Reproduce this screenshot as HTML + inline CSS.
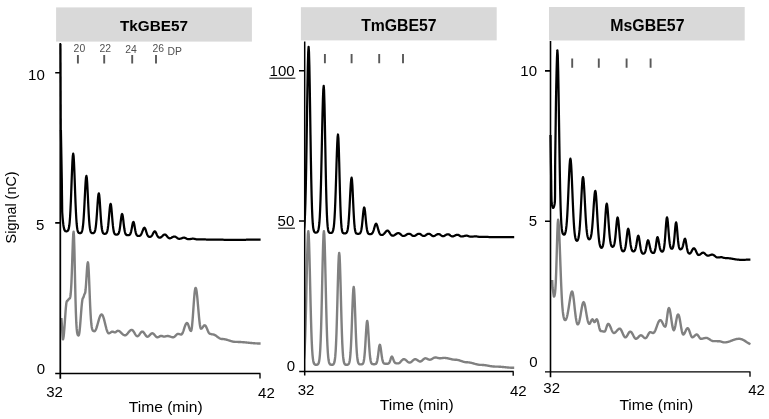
<!DOCTYPE html>
<html lang="en"><head><meta charset="utf-8"><title>GBE57 chromatograms</title>
<style>
html,body{margin:0;padding:0;background:#fff;}
body{width:769px;height:419px;overflow:hidden;}
svg{display:block;font-family:"Liberation Sans",sans-serif;}
.ax{stroke:#000;stroke-width:1.35;fill:none;}
.ay{stroke:#000;stroke-width:1.75;fill:none;}
.tk{stroke:#000;stroke-width:1.6;fill:none;}
.dp{stroke:#595959;stroke-width:1.9;fill:none;}
.bk{stroke:#000;stroke-width:2.25;fill:none;stroke-linejoin:round;stroke-linecap:butt;}
.gr{stroke:#808080;stroke-width:2.4;fill:none;stroke-linejoin:round;stroke-linecap:butt;}
</style></head><body>
<svg width="769" height="419" viewBox="0 0 769 419">
<rect width="769" height="419" fill="#fff"/>

<rect x="56.1" y="7.4" width="195.8" height="34.2" fill="#d9d9d9"/>
<rect x="300.9" y="7.2" width="195.8" height="33.2" fill="#d9d9d9"/>
<rect x="549.0" y="7.0" width="195.7" height="33.5" fill="#d9d9d9"/>
<text x="154.0" y="31.1" font-size="15.3" text-anchor="middle" font-weight="bold" fill="#000" >TkGBE57</text>
<text x="398.9" y="30.7" font-size="15.8" text-anchor="middle" font-weight="bold" fill="#000" >TmGBE57</text>
<text x="647.4" y="30.8" font-size="15.9" text-anchor="middle" font-weight="bold" fill="#000" >MsGBE57</text>
<path class="gr" d="M61.40 318.00L61.77 323.35L62.15 328.70L62.52 334.05L62.90 339.40L63.27 338.62L63.65 336.35L64.02 332.77L64.39 328.18L64.76 322.93L65.14 317.47L65.51 312.22L65.88 307.63L66.25 304.05L66.63 301.78L67.00 301.00L67.37 300.88L67.74 300.55L68.11 300.07L68.49 299.53L68.86 299.05L69.23 298.72L69.60 298.60L69.96 298.17L70.33 296.75L70.69 294.01L71.05 289.52L71.42 282.88L71.78 274.01L72.15 263.33L72.51 251.96L72.87 241.61L73.24 234.27L73.60 231.60L73.98 236.12L74.37 248.44L74.75 265.46L75.14 283.65L75.52 300.17L75.91 313.33L76.29 322.69L76.68 328.70L77.06 332.21L77.45 334.08L77.83 335.00L78.22 335.39L78.60 335.50L78.97 334.86L79.33 332.99L79.70 330.01L80.07 326.12L80.43 321.60L80.80 316.75L81.17 311.90L81.53 307.38L81.90 303.49L82.27 300.51L82.63 298.64L83.00 298.00L83.38 297.57L83.76 296.45L84.14 295.05L84.52 293.93L84.90 293.50L85.28 292.40L85.65 289.24L86.03 284.40L86.40 278.53L86.78 272.48L87.15 267.17L87.53 263.55L87.90 262.30L88.28 264.28L88.66 269.87L89.05 278.08L89.43 287.66L89.81 297.40L90.19 306.33L90.58 313.86L90.96 319.73L91.34 324.00L91.72 326.91L92.11 328.78L92.49 329.90L92.87 330.55L93.25 330.91L93.64 331.09L94.02 331.18L94.40 331.20L94.80 331.07L95.20 330.69L95.60 330.07L96.00 329.23L96.40 328.20L96.80 327.00L97.20 325.67L97.60 324.26L98.00 322.80L98.40 321.34L98.80 319.93L99.20 318.60L99.60 317.40L100.00 316.37L100.40 315.53L100.80 314.91L101.20 314.53L101.60 314.40L101.99 314.54L102.39 314.97L102.78 315.67L103.18 316.61L103.57 317.78L103.97 319.12L104.36 320.62L104.76 322.21L105.15 323.85L105.54 325.49L105.94 327.08L106.33 328.57L106.73 329.92L107.12 331.09L107.52 332.03L107.91 332.73L108.31 333.16L108.70 333.30L109.08 333.26L109.46 333.14L109.84 332.95L110.22 332.71L110.60 332.45L110.98 332.19L111.36 331.95L111.74 331.76L112.12 331.64L112.50 331.60L112.88 331.65L113.27 331.80L113.65 332.00L114.03 332.20L114.42 332.35L114.80 332.40L115.19 332.34L115.58 332.17L115.96 331.91L116.35 331.60L116.74 331.29L117.12 331.03L117.51 330.86L117.90 330.80L118.29 330.83L118.69 330.94L119.08 331.10L119.48 331.33L119.87 331.60L120.27 331.93L120.66 332.28L121.06 332.66L121.45 333.05L121.84 333.44L122.24 333.82L122.63 334.18L123.03 334.50L123.42 334.77L123.82 335.00L124.21 335.16L124.61 335.27L125.00 335.30L125.39 335.25L125.79 335.12L126.18 334.90L126.58 334.60L126.97 334.23L127.36 333.80L127.76 333.34L128.15 332.85L128.55 332.35L128.94 331.86L129.34 331.40L129.73 330.97L130.12 330.60L130.52 330.30L130.91 330.08L131.31 329.95L131.70 329.90L132.08 329.97L132.46 330.17L132.84 330.50L133.22 330.94L133.60 331.47L133.98 332.08L134.36 332.72L134.74 333.38L135.12 334.02L135.50 334.62L135.88 335.16L136.26 335.60L136.64 335.93L137.02 336.13L137.40 336.20L137.78 336.13L138.15 335.94L138.53 335.62L138.91 335.21L139.28 334.72L139.66 334.18L140.04 333.62L140.42 333.08L140.79 332.59L141.17 332.18L141.55 331.86L141.92 331.67L142.30 331.60L142.69 331.67L143.08 331.89L143.48 332.24L143.87 332.70L144.26 333.25L144.65 333.84L145.05 334.46L145.44 335.05L145.83 335.60L146.22 336.06L146.62 336.41L147.01 336.63L147.40 336.70L147.78 336.65L148.15 336.51L148.53 336.27L148.91 335.97L149.28 335.60L149.66 335.20L150.04 334.80L150.42 334.40L150.79 334.03L151.17 333.73L151.55 333.49L151.92 333.35L152.30 333.30L152.69 333.36L153.08 333.53L153.48 333.80L153.87 334.16L154.26 334.59L154.65 335.06L155.05 335.54L155.44 336.01L155.83 336.44L156.22 336.80L156.62 337.07L157.01 337.24L157.40 337.30L157.78 337.27L158.16 337.17L158.54 337.01L158.92 336.82L159.30 336.60L159.68 336.38L160.06 336.19L160.44 336.03L160.82 335.93L161.20 335.90L161.55 335.93L161.90 336.00L162.25 336.12L162.60 336.25L162.95 336.38L163.30 336.50L163.65 336.57L164.00 336.60L164.39 336.58L164.78 336.53L165.17 336.45L165.56 336.35L165.94 336.25L166.33 336.15L166.72 336.07L167.11 336.02L167.50 336.00L167.88 336.01L168.26 336.06L168.64 336.12L169.02 336.22L169.40 336.32L169.78 336.45L170.16 336.58L170.54 336.72L170.92 336.85L171.30 336.98L171.68 337.08L172.06 337.18L172.44 337.24L172.82 337.29L173.20 337.30L173.58 337.25L173.95 337.11L174.33 336.87L174.71 336.57L175.08 336.20L175.46 335.80L175.84 335.40L176.22 335.00L176.59 334.63L176.97 334.33L177.35 334.09L177.72 333.95L178.10 333.90L178.49 333.92L178.88 333.99L179.26 334.09L179.65 334.20L180.04 334.31L180.42 334.41L180.81 334.48L181.20 334.50L181.59 334.37L181.97 334.00L182.36 333.40L182.75 332.60L183.13 331.62L183.52 330.53L183.91 329.35L184.29 328.15L184.68 326.97L185.07 325.88L185.45 324.90L185.84 324.10L186.23 323.50L186.61 323.13L187.00 323.00L187.36 323.16L187.73 323.63L188.09 324.38L188.45 325.34L188.82 326.43L189.18 327.57L189.55 328.66L189.91 329.62L190.27 330.37L190.64 330.84L191.00 331.00L191.38 330.31L191.77 328.27L192.15 325.01L192.53 320.71L192.92 315.63L193.30 310.10L193.68 304.48L194.07 299.14L194.45 294.49L194.83 290.88L195.22 288.61L195.60 287.90L195.99 288.38L196.37 289.96L196.76 292.53L197.14 295.92L197.53 299.93L197.91 304.34L198.30 308.92L198.69 313.43L199.07 317.65L199.46 321.39L199.84 324.48L200.23 326.79L200.61 328.22L201.00 328.70L201.37 328.62L201.74 328.38L202.11 328.00L202.48 327.53L202.85 327.00L203.22 326.47L203.59 326.00L203.96 325.62L204.33 325.38L204.70 325.30L205.08 325.41L205.46 325.72L205.84 326.23L206.21 326.90L206.59 327.71L206.97 328.60L207.35 329.55L207.73 330.50L208.11 331.39L208.49 332.20L208.86 332.87L209.24 333.38L209.62 333.69L210.00 333.80L210.36 333.83L210.71 333.91L211.07 334.03L211.43 334.17L211.79 334.29L212.14 334.37L212.50 334.40L212.90 334.42L213.29 334.48L213.69 334.58L214.08 334.71L214.48 334.88L214.88 335.07L215.27 335.30L215.67 335.55L216.06 335.82L216.46 336.10L216.85 336.40L217.25 336.70L217.65 337.00L218.04 337.30L218.44 337.58L218.83 337.85L219.23 338.10L219.62 338.33L220.02 338.52L220.42 338.69L220.81 338.82L221.21 338.92L221.60 338.98L222.00 339.00L222.39 339.01L222.78 339.02L223.17 339.05L223.56 339.09L223.94 339.14L224.33 339.19L224.72 339.26L225.11 339.34L225.50 339.42L225.89 339.52L226.28 339.62L226.67 339.72L227.06 339.84L227.44 339.95L227.83 340.07L228.22 340.20L228.61 340.32L229.00 340.45L229.39 340.58L229.78 340.70L230.17 340.83L230.56 340.95L230.94 341.06L231.33 341.17L231.72 341.28L232.11 341.38L232.50 341.48L232.89 341.56L233.28 341.64L233.67 341.71L234.06 341.76L234.44 341.81L234.83 341.85L235.22 341.88L235.61 341.89L236.00 341.90L236.40 341.90L236.79 341.90L237.19 341.91L237.59 341.92L237.98 341.93L238.38 341.94L238.78 341.95L239.17 341.96L239.57 341.98L239.97 342.00L240.36 342.02L240.76 342.04L241.16 342.07L241.55 342.09L241.95 342.12L242.35 342.15L242.75 342.18L243.14 342.21L243.54 342.24L243.94 342.28L244.33 342.31L244.73 342.35L245.13 342.38L245.52 342.42L245.92 342.46L246.32 342.50L246.71 342.54L247.11 342.58L247.51 342.62L247.90 342.66L248.30 342.70L248.70 342.74L249.09 342.78L249.49 342.82L249.89 342.86L250.28 342.90L250.68 342.94L251.08 342.98L251.47 343.02L251.87 343.05L252.27 343.09L252.66 343.12L253.06 343.16L253.46 343.19L253.85 343.22L254.25 343.25L254.65 343.28L255.05 343.31L255.44 343.33L255.84 343.36L256.24 343.38L256.63 343.40L257.03 343.42L257.43 343.44L257.82 343.45L258.22 343.46L258.62 343.47L259.01 343.48L259.41 343.49L259.81 343.50L260.20 343.50L260.60 343.50"/>
<clipPath id="c2"><rect x="304.7" y="0" width="230" height="419"/></clipPath>
<path class="gr" clip-path="url(#c2)" d="M300.60 366.00L300.99 365.98L301.37 365.92L301.75 365.80L302.14 365.57L302.53 365.17L302.91 364.45L303.30 363.22L303.68 361.19L304.06 357.96L304.45 353.07L304.84 346.02L305.22 336.42L305.61 324.05L305.99 309.10L306.38 292.21L306.76 274.56L307.15 257.77L307.53 243.76L307.92 234.39L308.30 231.10L308.68 234.07L309.06 242.54L309.44 255.34L309.82 270.88L310.20 287.52L310.59 303.78L310.97 318.55L311.35 331.13L311.73 341.25L312.11 348.95L312.49 354.53L312.87 358.37L313.25 360.91L313.63 362.52L314.01 363.51L314.40 364.09L314.78 364.43L315.16 364.62L315.54 364.73L315.92 364.78L316.30 364.80L316.70 364.78L317.10 364.71L317.50 364.58L317.90 364.31L318.30 363.82L318.70 362.95L319.10 361.41L319.50 358.85L319.90 354.77L320.30 348.60L320.70 339.82L321.10 328.06L321.50 313.34L321.90 296.20L322.30 277.84L322.70 260.03L323.10 244.92L323.50 234.71L323.90 231.10L324.29 234.37L324.68 243.65L325.07 257.53L325.46 274.17L325.85 291.67L326.24 308.41L326.63 323.23L327.02 335.48L327.41 345.00L327.80 351.98L328.19 356.83L328.58 360.03L328.97 362.05L329.36 363.26L329.75 363.97L330.14 364.38L330.53 364.60L330.92 364.72L331.31 364.78L331.70 364.80L332.09 364.78L332.49 364.73L332.88 364.61L333.28 364.39L333.67 363.98L334.07 363.25L334.46 361.97L334.86 359.82L335.25 356.40L335.65 351.24L336.04 343.89L336.44 334.05L336.83 321.73L337.23 307.39L337.62 292.02L338.02 277.11L338.41 264.47L338.81 255.92L339.20 252.90L339.59 255.92L339.98 264.47L340.37 277.11L340.76 292.02L341.15 307.39L341.54 321.73L341.93 334.05L342.32 343.89L342.71 351.24L343.09 356.40L343.48 359.82L343.87 361.97L344.26 363.25L344.65 363.98L345.04 364.39L345.43 364.61L345.82 364.73L346.21 364.78L346.60 364.80L346.99 364.79L347.39 364.74L347.78 364.65L348.18 364.47L348.57 364.12L348.97 363.47L349.36 362.33L349.76 360.41L350.15 357.33L350.54 352.72L350.94 346.27L351.33 337.85L351.73 327.71L352.12 316.53L352.52 305.41L352.91 295.81L353.31 289.24L353.70 286.90L354.09 289.23L354.48 295.77L354.87 305.32L355.26 316.37L355.64 327.50L356.03 337.59L356.42 345.96L356.81 352.39L357.20 356.97L357.59 360.03L357.98 361.95L358.37 363.08L358.76 363.72L359.14 364.07L359.53 364.25L359.92 364.34L360.31 364.39L360.70 364.40L361.08 364.39L361.46 364.36L361.85 364.30L362.23 364.18L362.61 363.93L362.99 363.47L363.38 362.64L363.76 361.23L364.14 358.99L364.52 355.67L364.91 351.13L365.29 345.44L365.67 338.94L366.05 332.30L366.44 326.44L366.82 322.36L367.20 320.90L367.59 322.36L367.98 326.41L368.36 332.24L368.75 338.85L369.14 345.33L369.53 350.99L369.92 355.51L370.31 358.81L370.69 361.05L371.08 362.45L371.47 363.28L371.86 363.74L372.25 363.98L372.64 364.10L373.02 364.16L373.41 364.19L373.80 364.20L374.18 364.20L374.55 364.18L374.93 364.15L375.30 364.08L375.68 363.94L376.05 363.67L376.43 363.17L376.80 362.33L377.18 361.00L377.55 359.08L377.93 356.55L378.30 353.53L378.68 350.35L379.05 347.47L379.43 345.44L379.80 344.70L380.20 345.42L380.60 347.42L381.00 350.24L381.40 353.35L381.80 356.30L382.20 358.78L382.60 360.67L383.00 361.97L383.40 362.79L383.80 363.28L384.20 363.55L384.60 363.68L385.00 363.75L385.40 363.78L385.80 363.80L386.20 363.80L386.57 363.80L386.95 363.79L387.32 363.78L387.69 363.75L388.07 363.68L388.44 363.54L388.81 363.29L389.19 362.87L389.56 362.22L389.93 361.31L390.31 360.17L390.68 358.92L391.05 357.75L391.43 356.91L391.80 356.60L392.20 356.86L392.60 357.57L393.00 358.57L393.40 359.68L393.80 360.73L394.20 361.61L394.60 362.28L395.00 362.75L395.40 363.04L395.80 363.21L396.20 363.31L396.60 363.36L397.00 363.38L397.40 363.39L397.80 363.40L398.20 363.40L398.58 363.35L398.96 363.22L399.34 363.00L399.72 362.71L400.10 362.35L400.48 361.95L400.86 361.52L401.24 361.08L401.62 360.65L402.00 360.25L402.38 359.89L402.76 359.60L403.14 359.38L403.52 359.25L403.90 359.20L404.28 359.24L404.66 359.35L405.04 359.52L405.42 359.76L405.80 360.05L406.18 360.37L406.56 360.72L406.94 361.08L407.32 361.43L407.70 361.75L408.08 362.04L408.46 362.28L408.84 362.45L409.22 362.56L409.60 362.60L409.98 362.56L410.36 362.45L410.74 362.28L411.12 362.04L411.50 361.75L411.88 361.43L412.26 361.08L412.64 360.72L413.02 360.37L413.40 360.05L413.78 359.76L414.16 359.52L414.54 359.35L414.92 359.24L415.30 359.20L415.68 359.23L416.05 359.33L416.43 359.49L416.81 359.70L417.18 359.94L417.56 360.21L417.94 360.49L418.32 360.76L418.69 361.00L419.07 361.21L419.45 361.37L419.82 361.47L420.20 361.50L420.60 361.45L421.00 361.32L421.40 361.10L421.80 360.81L422.20 360.47L422.60 360.09L423.00 359.71L423.40 359.33L423.80 358.99L424.20 358.70L424.60 358.48L425.00 358.35L425.40 358.30L425.79 358.33L426.18 358.41L426.57 358.54L426.96 358.71L427.35 358.90L427.75 359.10L428.14 359.29L428.53 359.46L428.92 359.59L429.31 359.67L429.70 359.70L430.08 359.68L430.46 359.60L430.84 359.49L431.22 359.34L431.60 359.15L431.98 358.94L432.36 358.71L432.74 358.49L433.12 358.26L433.50 358.05L433.88 357.86L434.26 357.71L434.64 357.60L435.02 357.52L435.40 357.50L435.78 357.51L436.17 357.55L436.55 357.62L436.93 357.70L437.32 357.80L437.70 357.90L438.08 358.00L438.47 358.10L438.85 358.18L439.23 358.25L439.62 358.29L440.00 358.30L440.36 358.29L440.73 358.27L441.09 358.23L441.45 358.18L441.82 358.13L442.18 358.07L442.55 358.02L442.91 357.97L443.27 357.93L443.64 357.91L444.00 357.90L444.40 357.91L444.79 357.92L445.19 357.95L445.59 357.98L445.98 358.03L446.38 358.08L446.78 358.15L447.17 358.22L447.57 358.29L447.97 358.38L448.36 358.47L448.76 358.56L449.16 358.65L449.55 358.75L449.95 358.85L450.34 358.95L450.74 359.04L451.14 359.13L451.53 359.22L451.93 359.31L452.33 359.38L452.72 359.45L453.12 359.52L453.52 359.57L453.91 359.62L454.31 359.65L454.71 359.68L455.10 359.69L455.50 359.70L455.89 359.71L456.29 359.73L456.68 359.77L457.07 359.82L457.47 359.89L457.86 359.97L458.25 360.06L458.64 360.16L459.04 360.27L459.43 360.39L459.82 360.52L460.22 360.65L460.61 360.79L461.00 360.93L461.40 361.07L461.79 361.21L462.18 361.35L462.58 361.48L462.97 361.61L463.36 361.73L463.76 361.84L464.15 361.94L464.54 362.03L464.93 362.11L465.33 362.18L465.72 362.23L466.11 362.27L466.51 362.29L466.90 362.30L467.30 362.30L467.69 362.32L468.09 362.34L468.49 362.38L468.89 362.42L469.28 362.47L469.68 362.54L470.08 362.60L470.47 362.68L470.87 362.76L471.27 362.85L471.67 362.95L472.06 363.05L472.46 363.16L472.86 363.26L473.26 363.37L473.65 363.49L474.05 363.60L474.45 363.71L474.84 363.83L475.24 363.94L475.64 364.04L476.04 364.15L476.43 364.25L476.83 364.35L477.23 364.44L477.62 364.52L478.02 364.60L478.42 364.66L478.82 364.73L479.21 364.78L479.61 364.82L480.01 364.86L480.41 364.88L480.80 364.90L481.20 364.90L481.59 364.90L481.98 364.91L482.37 364.93L482.76 364.95L483.15 364.98L483.54 365.01L483.92 365.05L484.31 365.09L484.70 365.14L485.09 365.19L485.48 365.24L485.87 365.30L486.26 365.37L486.65 365.43L487.04 365.50L487.43 365.57L487.82 365.64L488.21 365.71L488.59 365.79L488.98 365.86L489.37 365.93L489.76 366.00L490.15 366.07L490.54 366.13L490.93 366.20L491.32 366.26L491.71 366.31L492.10 366.36L492.49 366.41L492.88 366.45L493.26 366.49L493.65 366.52L494.04 366.55L494.43 366.57L494.82 366.59L495.21 366.60L495.60 366.60L496.00 366.60L496.39 366.61L496.79 366.61L497.18 366.62L497.58 366.63L497.97 366.65L498.37 366.66L498.77 366.68L499.16 366.71L499.56 366.73L499.95 366.76L500.35 366.78L500.74 366.81L501.14 366.84L501.54 366.88L501.93 366.91L502.33 366.95L502.72 366.98L503.12 367.02L503.51 367.06L503.91 367.10L504.31 367.14L504.70 367.18L505.10 367.22L505.49 367.26L505.89 367.30L506.29 367.34L506.68 367.38L507.08 367.42L507.47 367.45L507.87 367.49L508.26 367.52L508.66 367.56L509.06 367.59L509.45 367.62L509.85 367.64L510.24 367.67L510.64 367.69L511.03 367.72L511.43 367.74L511.83 367.75L512.22 367.77L512.62 367.78L513.01 367.79L513.41 367.79L513.80 367.80L514.20 367.80"/>
<path class="gr" d="M552.20 280.00L552.40 284.00L552.60 288.00L552.92 290.15L553.25 292.30L553.58 294.45L553.90 296.60L554.28 296.27L554.66 295.12L555.05 292.74L555.43 288.49L555.81 281.71L556.19 271.99L556.57 259.61L556.95 245.81L557.34 232.78L557.72 223.29L558.10 219.80L558.49 221.53L558.89 226.53L559.28 234.27L559.68 243.96L560.07 254.77L560.47 265.87L560.86 276.57L561.26 286.32L561.65 294.79L562.04 301.82L562.44 307.41L562.83 311.68L563.23 314.82L563.62 317.03L564.02 318.51L564.41 319.44L564.81 319.94L565.20 320.10L565.58 319.95L565.97 319.48L566.35 318.70L566.73 317.62L567.12 316.23L567.50 314.54L567.88 312.59L568.27 310.39L568.65 308.00L569.03 305.48L569.42 302.91L569.80 300.38L570.18 297.98L570.57 295.82L570.95 294.01L571.33 292.64L571.72 291.79L572.10 291.50L572.48 291.97L572.86 293.37L573.24 295.58L573.62 298.43L574.00 301.71L574.38 305.22L574.76 308.76L575.14 312.16L575.52 315.27L575.90 318.01L576.28 320.29L576.66 322.09L577.04 323.37L577.42 324.14L577.80 324.40L578.19 324.20L578.57 323.60L578.96 322.62L579.35 321.27L579.73 319.59L580.12 317.63L580.51 315.45L580.89 313.14L581.28 310.78L581.67 308.50L582.05 306.40L582.44 304.62L582.83 303.25L583.21 302.39L583.60 302.10L583.98 302.38L584.36 303.22L584.74 304.56L585.12 306.31L585.50 308.36L585.88 310.59L586.26 312.89L586.64 315.15L587.02 317.28L587.40 319.20L587.78 320.84L588.16 322.16L588.54 323.12L588.92 323.70L589.30 323.90L589.69 323.72L590.07 323.23L590.46 322.48L590.85 321.60L591.24 320.72L591.62 319.97L592.01 319.48L592.40 319.30L592.73 319.49L593.07 320.00L593.40 320.70L593.73 321.40L594.07 321.91L594.40 322.10L594.78 321.91L595.17 321.40L595.55 320.70L595.93 320.00L596.32 319.49L596.70 319.30L597.06 319.54L597.43 320.23L597.79 321.32L598.15 322.72L598.52 324.32L598.88 325.98L599.25 327.58L599.61 328.98L599.97 330.07L600.34 330.76L600.70 331.00L601.08 331.01L601.46 331.06L601.84 331.12L602.22 331.21L602.60 331.30L602.98 331.39L603.36 331.48L603.74 331.54L604.12 331.59L604.50 331.60L604.87 331.41L605.24 330.86L605.61 330.01L605.98 328.94L606.35 327.75L606.72 326.56L607.09 325.49L607.46 324.64L607.83 324.09L608.20 323.90L608.58 324.00L608.96 324.29L609.34 324.77L609.72 325.41L610.10 326.17L610.48 327.04L610.86 327.97L611.24 328.93L611.62 329.86L612.00 330.72L612.38 331.49L612.76 332.13L613.14 332.61L613.52 332.90L613.90 333.00L614.29 332.95L614.67 332.81L615.06 332.59L615.45 332.29L615.83 331.93L616.22 331.51L616.61 331.07L616.99 330.63L617.38 330.19L617.77 329.77L618.15 329.41L618.54 329.11L618.93 328.89L619.31 328.75L619.70 328.70L620.08 328.79L620.46 329.07L620.84 329.52L621.22 330.12L621.60 330.85L621.98 331.67L622.36 332.55L622.74 333.45L623.12 334.33L623.50 335.15L623.88 335.88L624.26 336.48L624.64 336.93L625.02 337.21L625.40 337.30L625.78 337.22L626.15 336.97L626.53 336.58L626.91 336.07L627.28 335.46L627.66 334.79L628.04 334.11L628.42 333.44L628.79 332.83L629.17 332.32L629.55 331.93L629.92 331.68L630.30 331.60L630.68 331.68L631.06 331.91L631.44 332.29L631.82 332.79L632.20 333.40L632.58 334.09L632.96 334.82L633.34 335.58L633.72 336.31L634.10 337.00L634.48 337.61L634.86 338.11L635.24 338.49L635.62 338.72L636.00 338.80L636.38 338.75L636.75 338.60L637.13 338.36L637.51 338.04L637.88 337.67L638.26 337.26L638.64 336.84L639.02 336.43L639.39 336.06L639.77 335.74L640.15 335.50L640.52 335.35L640.90 335.30L641.27 335.35L641.65 335.49L642.02 335.72L642.40 336.02L642.77 336.37L643.15 336.75L643.52 337.13L643.90 337.47L644.27 337.78L644.65 338.01L645.02 338.15L645.40 338.20L645.78 338.11L646.15 337.86L646.53 337.45L646.91 336.90L647.28 336.26L647.66 335.56L648.04 334.84L648.42 334.14L648.79 333.50L649.17 332.95L649.55 332.54L649.92 332.29L650.30 332.20L650.66 332.23L651.02 332.32L651.39 332.45L651.75 332.60L652.11 332.75L652.48 332.88L652.84 332.97L653.20 333.00L653.59 332.90L653.99 332.61L654.38 332.14L654.78 331.49L655.17 330.70L655.57 329.78L655.96 328.76L656.36 327.67L656.75 326.55L657.14 325.43L657.54 324.34L657.93 323.33L658.33 322.40L658.72 321.61L659.12 320.96L659.51 320.49L659.91 320.20L660.30 320.10L660.68 320.20L661.05 320.48L661.43 320.93L661.81 321.53L662.18 322.23L662.56 323.00L662.94 323.80L663.32 324.57L663.69 325.27L664.07 325.87L664.45 326.32L664.82 326.60L665.20 326.70L665.57 326.26L665.94 324.98L666.31 322.98L666.68 320.43L667.05 317.56L667.42 314.66L667.79 312.00L668.16 309.87L668.53 308.51L668.90 308.10L669.28 308.37L669.65 309.33L670.03 310.89L670.41 312.96L670.78 315.38L671.16 318.00L671.54 320.68L671.92 323.25L672.29 325.57L672.67 327.51L673.05 328.98L673.42 329.89L673.80 330.20L674.19 329.89L674.58 328.99L674.97 327.56L675.36 325.70L675.75 323.56L676.15 321.31L676.54 319.11L676.93 317.16L677.32 315.64L677.71 314.68L678.10 314.40L678.50 314.65L678.90 315.52L679.30 316.94L679.70 318.82L680.10 321.02L680.50 323.41L680.90 325.84L681.30 328.18L681.70 330.29L682.10 332.06L682.50 333.39L682.90 334.22L683.30 334.50L683.69 334.37L684.08 334.00L684.47 333.41L684.86 332.66L685.25 331.80L685.65 330.90L686.04 330.04L686.43 329.29L686.82 328.70L687.21 328.33L687.60 328.20L688.00 328.36L688.40 328.81L688.80 329.53L689.20 330.47L689.60 331.57L690.00 332.75L690.40 333.93L690.80 335.02L691.20 335.97L691.60 336.69L692.00 337.14L692.40 337.30L692.79 337.24L693.18 337.08L693.57 336.82L693.96 336.48L694.35 336.10L694.75 335.70L695.14 335.32L695.53 334.98L695.92 334.72L696.31 334.56L696.70 334.50L697.09 334.59L697.48 334.84L697.87 335.24L698.26 335.76L698.65 336.34L699.05 336.96L699.44 337.54L699.83 338.06L700.22 338.46L700.61 338.71L701.00 338.80L701.37 338.79L701.74 338.76L702.11 338.70L702.49 338.63L702.86 338.55L703.23 338.45L703.60 338.35L703.97 338.25L704.34 338.15L704.71 338.07L705.09 338.00L705.46 337.94L705.83 337.91L706.20 337.90L706.60 337.92L707.00 338.00L707.40 338.11L707.80 338.27L708.20 338.47L708.60 338.70L709.00 338.95L709.40 339.22L709.80 339.50L710.20 339.78L710.60 340.05L711.00 340.30L711.40 340.53L711.80 340.73L712.20 340.89L712.60 341.00L713.00 341.08L713.40 341.10L713.77 341.10L714.15 341.10L714.52 341.11L714.89 341.12L715.27 341.12L715.64 341.13L716.01 341.14L716.39 341.16L716.76 341.17L717.13 341.18L717.51 341.18L717.88 341.19L718.25 341.20L718.63 341.20L719.00 341.20L719.39 341.22L719.77 341.26L720.16 341.33L720.54 341.43L720.93 341.54L721.31 341.67L721.70 341.80L722.09 341.93L722.47 342.06L722.86 342.17L723.24 342.27L723.63 342.34L724.01 342.38L724.40 342.40L724.79 342.39L725.19 342.37L725.58 342.34L725.98 342.30L726.37 342.24L726.77 342.17L727.16 342.09L727.56 342.00L727.95 341.90L728.35 341.79L728.74 341.67L729.14 341.54L729.53 341.41L729.92 341.27L730.32 341.13L730.71 340.98L731.11 340.83L731.50 340.68L731.90 340.52L732.29 340.37L732.69 340.22L733.08 340.07L733.48 339.93L733.87 339.79L734.26 339.66L734.66 339.53L735.05 339.41L735.45 339.30L735.84 339.20L736.24 339.11L736.63 339.03L737.03 338.96L737.42 338.90L737.82 338.86L738.21 338.83L738.61 338.81L739.00 338.80L739.39 338.81L739.79 338.84L740.18 338.89L740.58 338.97L740.97 339.06L741.37 339.17L741.76 339.30L742.16 339.45L742.55 339.62L742.95 339.80L743.34 340.00L743.74 340.20L744.13 340.42L744.53 340.65L744.92 340.89L745.32 341.14L745.71 341.39L746.11 341.64L746.50 341.90L746.89 342.16L747.29 342.41L747.68 342.66L748.08 342.91L748.47 343.15L748.87 343.38L749.26 343.60L749.66 343.80L750.05 344.00L750.45 344.18"/>
<path class="bk" d="M60.90 130.00L61.20 146.67L61.50 163.33L61.80 180.00L62.00 196.00L62.20 212.00L62.59 217.47L62.98 221.74L63.37 224.97L63.76 227.33L64.15 228.99L64.55 230.08L64.94 230.74L65.33 231.10L65.72 231.25L66.11 231.30L66.50 231.30L66.89 231.26L67.29 231.14L67.68 230.89L68.08 230.41L68.47 229.56L68.86 228.12L69.26 225.80L69.65 222.28L70.05 217.22L70.44 210.42L70.84 201.87L71.23 191.88L71.62 181.15L72.02 170.70L72.41 161.83L72.81 155.83L73.20 153.70L73.59 155.88L73.98 162.03L74.36 171.12L74.75 181.82L75.14 192.82L75.53 203.05L75.92 211.81L76.31 218.78L76.69 223.96L77.08 227.57L77.47 229.94L77.86 231.42L78.25 232.29L78.64 232.78L79.02 233.04L79.41 233.16L79.80 233.20L80.19 233.17L80.58 233.09L80.96 232.90L81.35 232.55L81.74 231.92L82.13 230.85L82.52 229.14L82.91 226.54L83.29 222.81L83.68 217.78L84.07 211.47L84.46 204.10L84.85 196.17L85.24 188.45L85.62 181.90L86.01 177.47L86.40 175.90L86.79 177.67L87.18 182.62L87.56 189.84L87.95 198.16L88.34 206.49L88.72 213.98L89.11 220.14L89.50 224.83L89.89 228.13L90.28 230.30L90.66 231.64L91.05 232.42L91.44 232.85L91.82 233.07L92.21 233.17L92.60 233.20L92.99 233.18L93.38 233.11L93.76 232.95L94.15 232.66L94.54 232.11L94.92 231.18L95.31 229.67L95.70 227.37L96.09 224.11L96.47 219.82L96.86 214.60L97.25 208.80L97.64 203.01L98.02 197.98L98.41 194.53L98.80 193.30L99.19 194.72L99.59 198.66L99.98 204.29L100.37 210.63L100.77 216.77L101.16 222.08L101.55 226.25L101.95 229.24L102.34 231.22L102.73 232.43L103.13 233.13L103.52 233.50L103.91 233.69L104.31 233.78L104.70 233.80L105.09 233.78L105.49 233.72L105.88 233.58L106.27 233.31L106.67 232.79L107.06 231.89L107.45 230.43L107.85 228.22L108.24 225.15L108.63 221.23L109.03 216.70L109.42 212.02L109.81 207.86L110.21 204.95L110.60 203.90L110.99 204.98L111.37 207.96L111.76 212.23L112.15 217.04L112.53 221.69L112.92 225.72L113.31 228.87L113.69 231.14L114.08 232.64L114.47 233.57L114.85 234.09L115.24 234.38L115.63 234.52L116.01 234.58L116.40 234.60L116.78 234.59L117.16 234.54L117.54 234.45L117.92 234.26L118.30 233.90L118.68 233.28L119.06 232.27L119.44 230.74L119.82 228.61L120.20 225.90L120.58 222.76L120.96 219.52L121.34 216.64L121.72 214.63L122.10 213.90L122.48 214.65L122.86 216.72L123.24 219.68L123.62 223.02L124.00 226.25L124.38 229.04L124.76 231.23L125.14 232.80L125.52 233.84L125.90 234.48L126.28 234.85L126.66 235.04L127.04 235.14L127.42 235.19L127.80 235.20L128.17 235.19L128.55 235.16L128.92 235.10L129.29 234.98L129.67 234.75L130.04 234.35L130.41 233.70L130.79 232.72L131.16 231.35L131.53 229.61L131.91 227.59L132.28 225.51L132.65 223.66L133.03 222.37L133.40 221.90L133.79 222.47L134.19 224.02L134.58 226.19L134.97 228.56L135.36 230.77L135.76 232.59L136.15 233.94L136.54 234.84L136.94 235.40L137.33 235.71L137.72 235.88L138.11 235.96L138.51 235.99L138.90 236.00L139.29 235.96L139.69 235.84L140.08 235.63L140.47 235.29L140.86 234.82L141.26 234.18L141.65 233.38L142.04 232.43L142.44 231.38L142.83 230.30L143.22 229.29L143.61 228.45L144.01 227.89L144.40 227.70L144.80 227.95L145.20 228.66L145.60 229.71L146.00 230.95L146.40 232.24L146.80 233.45L147.20 234.50L147.60 235.34L148.00 235.97L148.40 236.41L148.80 236.70L149.20 236.85L149.60 236.90L149.97 236.87L150.34 236.79L150.71 236.65L151.09 236.42L151.46 236.10L151.83 235.67L152.20 235.13L152.57 234.49L152.94 233.79L153.31 233.06L153.69 232.37L154.06 231.81L154.43 231.43L154.80 231.30L155.18 231.47L155.57 231.97L155.95 232.70L156.34 233.56L156.72 234.46L157.11 235.30L157.49 236.03L157.88 236.61L158.26 237.05L158.65 237.36L159.03 237.56L159.42 237.67L159.80 237.70L160.18 237.66L160.57 237.52L160.95 237.31L161.34 237.03L161.72 236.69L162.11 236.32L162.49 235.93L162.88 235.55L163.26 235.20L163.65 234.90L164.03 234.68L164.42 234.54L164.80 234.50L165.20 234.56L165.60 234.75L166.00 235.06L166.40 235.47L166.80 235.94L167.20 236.43L167.60 236.92L168.00 237.38L168.40 237.76L168.80 238.05L169.20 238.24L169.60 238.30L169.97 238.27L170.34 238.20L170.71 238.08L171.08 237.92L171.45 237.73L171.82 237.52L172.18 237.31L172.55 237.09L172.92 236.90L173.29 236.73L173.66 236.60L174.03 236.52L174.40 236.50L174.80 236.53L175.20 236.65L175.60 236.84L176.00 237.09L176.40 237.37L176.80 237.67L177.20 237.97L177.60 238.24L178.00 238.47L178.40 238.65L178.80 238.76L179.20 238.80L179.57 238.78L179.94 238.74L180.31 238.67L180.68 238.57L181.05 238.45L181.42 238.33L181.78 238.19L182.15 238.06L182.52 237.94L182.89 237.84L183.26 237.76L183.63 237.71L184.00 237.70L184.38 237.72L184.75 237.80L185.12 237.92L185.50 238.08L185.88 238.27L186.25 238.46L186.62 238.66L187.00 238.84L187.38 238.99L187.75 239.10L188.12 239.18L188.50 239.20L188.88 239.19L189.25 239.17L189.62 239.13L190.00 239.08L190.38 239.02L190.75 238.95L191.12 238.89L191.50 238.83L191.88 238.77L192.25 238.73L192.62 238.71L193.00 238.70L193.38 238.71L193.75 238.75L194.12 238.80L194.50 238.88L194.88 238.96L195.25 239.06L195.62 239.15L196.00 239.23L196.38 239.30L196.75 239.35L197.12 239.39L197.50 239.40L197.88 239.40L198.25 239.39L198.62 239.39L199.00 239.38L199.38 239.36L199.75 239.35L200.12 239.34L200.50 239.33L200.88 239.31L201.25 239.31L201.62 239.30L202.00 239.30L202.38 239.30L202.75 239.31L203.12 239.33L203.50 239.35L203.88 239.38L204.25 239.40L204.62 239.43L205.00 239.45L205.38 239.47L205.75 239.49L206.12 239.50L206.50 239.50L206.90 239.50L207.30 239.50L207.69 239.50L208.09 239.50L208.49 239.51L208.89 239.51L209.29 239.51L209.69 239.51L210.08 239.52L210.48 239.52L210.88 239.53L211.28 239.53L211.68 239.53L212.08 239.54L212.47 239.55L212.87 239.55L213.27 239.56L213.67 239.56L214.07 239.57L214.47 239.58L214.86 239.58L215.26 239.59L215.66 239.60L216.06 239.61L216.46 239.61L216.86 239.62L217.25 239.63L217.65 239.64L218.05 239.65L218.45 239.65L218.85 239.66L219.25 239.67L219.64 239.68L220.04 239.69L220.44 239.69L220.84 239.70L221.24 239.71L221.64 239.72L222.03 239.72L222.43 239.73L222.83 239.74L223.23 239.74L223.63 239.75L224.03 239.75L224.42 239.76L224.82 239.77L225.22 239.77L225.62 239.77L226.02 239.78L226.42 239.78L226.81 239.79L227.21 239.79L227.61 239.79L228.01 239.79L228.41 239.80L228.81 239.80L229.20 239.80L229.60 239.80L230.00 239.80L230.40 239.80L230.79 239.80L231.19 239.80L231.59 239.80L231.99 239.80L232.38 239.80L232.78 239.80L233.18 239.80L233.58 239.80L233.97 239.80L234.37 239.80L234.77 239.79L235.17 239.79L235.56 239.79L235.96 239.79L236.36 239.79L236.76 239.79L237.15 239.79L237.55 239.79L237.95 239.78L238.35 239.78L238.74 239.78L239.14 239.78L239.54 239.78L239.94 239.78L240.33 239.77L240.73 239.77L241.13 239.77L241.52 239.77L241.92 239.77L242.32 239.77L242.72 239.76L243.11 239.76L243.51 239.76L243.91 239.76L244.31 239.76L244.70 239.75L245.10 239.75L245.50 239.75L245.90 239.75L246.29 239.74L246.69 239.74L247.09 239.74L247.49 239.74L247.88 239.74L248.28 239.73L248.68 239.73L249.08 239.73L249.47 239.73L249.87 239.73L250.27 239.73L250.66 239.72L251.06 239.72L251.46 239.72L251.86 239.72L252.25 239.72L252.65 239.72L253.05 239.71L253.45 239.71L253.84 239.71L254.24 239.71L254.64 239.71L255.04 239.71L255.43 239.71L255.83 239.71L256.23 239.70L256.63 239.70L257.02 239.70L257.42 239.70L257.82 239.70L258.22 239.70L258.61 239.70L259.01 239.70L259.41 239.70L259.81 239.70L260.20 239.70L260.60 239.70"/>
<path d="M60.5 44L60.9 131" stroke="#000" stroke-width="1.9" fill="none"/>
<path class="bk" clip-path="url(#c2)" d="M301.40 234.00L301.80 233.96L302.20 233.84L302.60 233.58L303.00 233.07L303.40 232.12L303.80 230.39L304.20 227.38L304.60 222.39L305.00 214.58L305.40 203.08L305.80 187.22L306.20 166.84L306.60 142.59L307.00 116.09L307.40 89.99L307.80 67.59L308.20 52.33L308.60 46.90L308.98 51.74L309.36 65.45L309.74 85.82L310.12 109.99L310.49 135.08L310.87 158.70L311.25 179.23L311.63 195.84L312.01 208.42L312.39 217.40L312.77 223.45L313.15 227.31L313.53 229.67L313.91 231.04L314.28 231.82L314.66 232.24L315.04 232.46L315.42 232.57L315.80 232.60L316.19 232.58L316.59 232.50L316.99 232.35L317.38 232.06L317.77 231.56L318.17 230.67L318.56 229.19L318.96 226.77L319.36 222.99L319.75 217.37L320.14 209.40L320.54 198.70L320.94 185.10L321.33 168.83L321.73 150.65L322.12 131.79L322.51 113.99L322.91 99.20L323.31 89.36L323.70 85.90L324.09 90.67L324.49 104.00L324.88 123.27L325.28 145.26L325.67 166.99L326.06 186.25L326.46 201.79L326.85 213.34L327.25 221.30L327.64 226.40L328.04 229.46L328.43 231.20L328.82 232.13L329.22 232.62L329.61 232.86L330.01 232.97L330.40 233.00L330.78 232.98L331.16 232.93L331.54 232.83L331.92 232.64L332.30 232.30L332.68 231.71L333.06 230.71L333.44 229.08L333.82 226.55L334.20 222.77L334.58 217.43L334.96 210.24L335.34 201.10L335.72 190.18L336.10 177.97L336.48 165.31L336.86 153.36L337.24 143.43L337.62 136.82L338.00 134.50L338.40 138.12L338.80 148.11L339.20 162.32L339.60 178.15L340.00 193.30L340.40 206.20L340.80 216.14L341.20 223.13L341.60 227.66L342.00 230.38L342.40 231.90L342.80 232.70L343.20 233.10L343.60 233.29L344.00 233.38L344.40 233.40L344.80 233.39L345.20 233.35L345.60 233.28L346.00 233.12L346.40 232.84L346.80 232.32L347.20 231.43L347.60 229.94L348.00 227.62L348.40 224.19L348.80 219.47L349.20 213.41L349.60 206.19L350.00 198.30L350.40 190.53L350.80 183.86L351.20 179.32L351.60 177.70L351.99 179.75L352.39 185.42L352.78 193.48L353.17 202.46L353.57 211.05L353.96 218.37L354.36 224.01L354.75 227.98L355.14 230.55L355.54 232.09L355.93 232.95L356.32 233.40L356.72 233.63L357.11 233.74L357.51 233.79L357.90 233.80L358.29 233.79L358.69 233.77L359.08 233.72L359.47 233.61L359.87 233.40L360.26 233.00L360.66 232.27L361.05 231.07L361.44 229.21L361.84 226.57L362.23 223.14L362.62 219.11L363.02 214.90L363.41 211.12L363.81 208.46L364.20 207.50L364.59 208.48L364.99 211.17L365.38 215.01L365.77 219.28L366.17 223.37L366.56 226.86L366.96 229.54L367.35 231.43L367.74 232.65L368.14 233.38L368.53 233.79L368.93 234.01L369.32 234.12L369.71 234.17L370.11 234.19L370.50 234.20L370.90 234.16L371.30 234.04L371.70 233.82L372.10 233.46L372.50 232.92L372.90 232.18L373.30 231.21L373.70 230.02L374.10 228.67L374.50 227.24L374.90 225.88L375.30 224.73L375.70 223.97L376.10 223.70L376.47 223.95L376.85 224.68L377.22 225.77L377.59 227.11L377.97 228.53L378.34 229.93L378.71 231.21L379.09 232.30L379.46 233.17L379.83 233.84L380.21 234.32L380.58 234.65L380.95 234.85L381.33 234.96L381.70 235.00L382.09 234.97L382.47 234.86L382.86 234.69L383.25 234.45L383.63 234.15L384.02 233.78L384.41 233.36L384.79 232.91L385.18 232.43L385.57 231.97L385.95 231.53L386.34 231.15L386.73 230.85L387.11 230.66L387.50 230.60L387.90 230.70L388.30 230.98L388.70 231.43L389.10 231.98L389.50 232.60L389.90 233.23L390.30 233.84L390.70 234.39L391.10 234.85L391.50 235.22L391.90 235.49L392.30 235.65L392.70 235.70L393.08 235.67L393.46 235.59L393.84 235.45L394.22 235.27L394.60 235.04L394.98 234.79L395.36 234.52L395.74 234.25L396.12 233.98L396.50 233.73L396.88 233.52L397.26 233.35L397.64 233.23L398.02 233.18L398.40 233.20L398.78 233.18L399.17 233.27L399.55 233.44L399.94 233.70L400.32 234.01L400.71 234.35L401.09 234.70L401.48 235.05L401.86 235.36L402.25 235.63L402.63 235.83L403.02 235.96L403.40 236.00L403.77 235.97L404.15 235.90L404.52 235.78L404.89 235.62L405.27 235.42L405.64 235.20L406.01 234.96L406.39 234.72L406.76 234.49L407.13 234.27L407.51 234.08L407.88 233.93L408.25 233.83L408.63 233.78L409.00 233.80L409.37 233.79L409.74 233.85L410.11 233.99L410.48 234.19L410.85 234.43L411.22 234.70L411.58 234.98L411.95 235.25L412.32 235.50L412.69 235.71L413.06 235.87L413.43 235.97L413.80 236.00L414.20 235.97L414.60 235.87L415.00 235.71L415.40 235.50L415.80 235.25L416.20 234.98L416.60 234.70L417.00 234.43L417.40 234.19L417.80 233.99L418.20 233.85L418.60 233.79L419.00 233.80L419.39 233.79L419.78 233.87L420.18 234.04L420.57 234.27L420.96 234.54L421.35 234.84L421.74 235.14L422.13 235.42L422.52 235.66L422.92 235.85L423.31 235.96L423.70 236.00L424.08 235.97L424.47 235.87L424.85 235.71L425.24 235.50L425.62 235.25L426.01 234.98L426.39 234.70L426.78 234.43L427.16 234.19L427.55 233.99L427.93 233.85L428.32 233.79L428.70 233.80L429.09 233.79L429.48 233.87L429.88 234.05L430.27 234.29L430.66 234.58L431.05 234.89L431.44 235.20L431.83 235.50L432.22 235.75L432.62 235.94L433.01 236.06L433.40 236.10L433.79 236.07L434.18 235.98L434.58 235.84L434.97 235.65L435.36 235.42L435.75 235.17L436.15 234.92L436.54 234.68L436.93 234.45L437.32 234.27L437.72 234.15L438.11 234.09L438.50 234.10L438.88 234.09L439.25 234.17L439.62 234.33L440.00 234.55L440.38 234.81L440.75 235.09L441.12 235.38L441.50 235.65L441.88 235.88L442.25 236.05L442.62 236.16L443.00 236.20L443.38 236.17L443.75 236.09L444.13 235.95L444.51 235.77L444.88 235.55L445.26 235.32L445.64 235.08L446.02 234.85L446.39 234.64L446.77 234.47L447.15 234.35L447.52 234.29L447.90 234.30L448.27 234.29L448.65 234.37L449.02 234.53L449.40 234.75L449.77 235.01L450.15 235.29L450.52 235.58L450.90 235.85L451.27 236.08L451.65 236.25L452.02 236.36L452.40 236.40L452.78 236.38L453.17 236.30L453.55 236.19L453.94 236.04L454.32 235.86L454.71 235.66L455.09 235.46L455.48 235.26L455.86 235.08L456.25 234.94L456.63 234.84L457.02 234.79L457.40 234.80L457.79 234.79L458.18 234.87L458.57 235.03L458.96 235.24L459.35 235.48L459.75 235.73L460.14 235.98L460.53 236.19L460.92 236.36L461.31 236.46L461.70 236.50L462.07 236.49L462.44 236.45L462.81 236.39L463.18 236.32L463.55 236.23L463.92 236.13L464.28 236.03L464.65 235.93L465.02 235.84L465.39 235.77L465.76 235.72L466.13 235.69L466.50 235.70L466.89 235.70L467.28 235.74L467.67 235.83L468.06 235.96L468.45 236.10L468.85 236.25L469.24 236.39L469.63 236.52L470.02 236.62L470.41 236.68L470.80 236.70L471.20 236.69L471.60 236.68L472.00 236.65L472.40 236.62L472.80 236.58L473.20 236.54L473.60 236.50L474.00 236.46L474.40 236.43L474.80 236.41L475.20 236.40L475.60 236.40L475.97 236.40L476.33 236.42L476.70 236.45L477.07 236.51L477.43 236.57L477.80 236.64L478.17 236.70L478.53 236.77L478.90 236.82L479.27 236.86L479.63 236.89L480.00 236.90L480.37 236.90L480.74 236.89L481.11 236.89L481.48 236.88L481.85 236.87L482.22 236.85L482.58 236.84L482.95 236.83L483.32 236.82L483.69 236.81L484.06 236.80L484.43 236.80L484.80 236.80L485.18 236.80L485.56 236.81L485.95 236.83L486.33 236.85L486.71 236.88L487.09 236.91L487.47 236.94L487.85 236.96L488.24 236.98L488.62 237.00L489.00 237.00L489.38 237.00L489.75 237.00L490.12 237.00L490.50 237.00L490.88 237.00L491.25 237.00L491.62 237.00L492.00 237.00L492.38 237.00L492.75 237.00L493.12 237.00L493.50 237.00L493.88 237.00L494.25 237.00L494.62 237.00L495.00 237.00L495.39 237.00L495.78 237.00L496.18 237.00L496.57 237.00L496.96 237.00L497.35 237.00L497.74 237.00L498.13 237.00L498.53 237.00L498.92 237.00L499.31 237.00L499.70 237.00L500.09 237.00L500.49 237.00L500.88 237.00L501.27 237.00L501.66 237.00L502.05 237.00L502.44 237.00L502.84 237.00L503.23 237.00L503.62 237.00L504.01 237.00L504.40 237.00L504.80 237.00L505.19 237.00L505.58 237.00L505.97 237.00L506.36 237.00L506.76 237.00L507.15 237.00L507.54 237.00L507.93 237.00L508.32 237.00L508.71 237.00L509.11 237.00L509.50 237.00L509.89 237.00L510.28 237.00L510.67 237.00L511.07 237.00L511.46 237.00L511.85 237.00L512.24 237.00L512.63 237.00L513.02 237.00L513.42 237.00L513.81 237.00L514.20 237.00"/>
<path class="bk" d="M550.50 135.00L550.51 135.69L550.52 136.52L550.53 137.46L550.54 138.52L550.56 139.68L550.57 140.94L550.59 142.28L550.61 143.70L550.63 145.20L550.65 146.75L550.68 148.35L550.70 150.00L550.73 151.75L550.76 153.63L550.79 155.64L550.82 157.74L550.86 159.91L550.89 162.12L550.93 164.36L550.97 166.59L551.00 168.80L551.04 170.95L551.07 173.02L551.10 175.00L551.13 176.93L551.15 178.89L551.18 180.85L551.20 182.80L551.23 184.72L551.25 186.59L551.27 188.41L551.30 190.15L551.32 191.79L551.35 193.33L551.37 194.74L551.40 196.00L551.43 197.11L551.45 198.07L551.47 198.90L551.49 199.61L551.51 200.24L551.54 200.79L551.56 201.28L551.60 201.73L551.63 202.16L551.68 202.59L551.73 203.03L551.80 203.50L551.88 204.00L551.96 204.50L552.06 205.00L552.16 205.49L552.27 205.95L552.39 206.38L552.51 206.78L552.63 207.13L552.75 207.42L552.87 207.65L552.99 207.82L553.10 207.90L553.22 207.90L553.34 207.82L553.46 207.67L553.59 207.46L553.72 207.19L553.85 206.88L553.98 206.53L554.10 206.15L554.21 205.75L554.32 205.34L554.41 204.92L554.50 204.50L554.57 204.10L554.64 203.73L554.70 203.36L554.75 202.99L554.79 202.59L554.83 202.16L554.87 201.68L554.90 201.13L554.92 200.51L554.95 199.78L554.98 198.95L555.00 198.00L555.02 196.91L555.04 195.69L555.05 194.36L555.06 192.93L555.07 191.42L555.07 189.84L555.08 188.22L555.08 186.57L555.08 184.91L555.09 183.25L555.09 181.61L555.10 180.00L555.11 178.44L555.11 176.90L555.12 175.38L555.12 173.85L555.13 172.31L555.13 170.75L555.14 169.14L555.14 167.48L555.15 165.75L555.17 163.94L555.18 162.02L555.20 160.00L555.22 157.85L555.25 155.58L555.28 153.20L555.31 150.74L555.35 148.21L555.38 145.62L555.42 143.01L555.46 140.37L555.49 137.73L555.53 135.12L555.57 132.53L555.60 130.00L555.63 127.48L555.67 124.94L555.70 122.38L555.73 119.81L555.76 117.25L555.79 114.69L555.83 112.15L555.86 109.63L555.89 107.15L555.93 104.71L555.96 102.32L556.00 100.00L556.04 97.71L556.08 95.43L556.12 93.16L556.16 90.93L556.21 88.72L556.25 86.56L556.29 84.45L556.34 82.41L556.38 80.43L556.42 78.53L556.46 76.72L556.50 75.00L556.54 73.37L556.57 71.83L556.61 70.36L556.64 68.96L556.68 67.64L556.71 66.38L556.75 65.18L556.78 64.04L556.81 62.95L556.84 61.92L556.87 60.94L556.90 60.00L556.93 59.12L556.96 58.32L556.98 57.58L557.01 56.91L557.04 56.29L557.06 55.73L557.09 55.20L557.11 54.71L557.13 54.25L557.16 53.82L557.18 53.40L557.20 53.00L557.22 52.62L557.24 52.28L557.26 51.98L557.28 51.71L557.30 51.47L557.32 51.26L557.34 51.08L557.35 50.91L557.37 50.76L557.38 50.63L557.39 50.51L557.40 50.40L557.79 55.69L558.19 70.86L558.58 93.09L558.98 118.96L559.37 145.17L559.76 169.12L560.16 189.18L560.55 204.74L560.95 215.98L561.34 223.58L561.74 228.41L562.13 231.31L562.52 232.97L562.92 233.86L563.31 234.32L563.71 234.54L564.10 234.60L564.49 234.45L564.89 233.96L565.28 233.03L565.67 231.52L566.07 229.21L566.46 225.89L566.86 221.35L567.25 215.44L567.64 208.16L568.04 199.69L568.43 190.43L568.83 181.01L569.22 172.26L569.61 165.08L570.01 160.35L570.40 158.70L570.78 160.28L571.16 164.85L571.55 171.84L571.93 180.50L572.31 190.00L572.69 199.57L573.08 208.57L573.46 216.55L573.84 223.28L574.22 228.67L574.61 232.79L574.99 235.81L575.37 237.92L575.75 239.32L576.14 240.19L576.52 240.65L576.90 240.80L577.28 240.67L577.66 240.26L578.04 239.48L578.42 238.21L578.81 236.28L579.19 233.49L579.57 229.68L579.95 224.72L580.33 218.61L580.71 211.50L581.09 203.73L581.48 195.82L581.86 188.48L582.24 182.46L582.62 178.48L583.00 177.10L583.39 178.45L583.77 182.33L584.16 188.21L584.55 195.38L584.94 203.10L585.33 210.69L585.71 217.64L586.10 223.60L586.49 228.44L586.88 232.17L587.26 234.89L587.65 236.77L588.04 238.01L588.43 238.77L588.81 239.17L589.20 239.30L589.58 239.20L589.96 238.89L590.34 238.30L590.73 237.33L591.11 235.86L591.49 233.75L591.87 230.85L592.25 227.09L592.63 222.44L593.01 217.04L593.39 211.13L593.77 205.13L594.16 199.55L594.54 194.97L594.92 191.95L595.30 190.90L595.69 192.14L596.07 195.69L596.46 201.06L596.85 207.62L597.24 214.68L597.62 221.63L598.01 227.98L598.40 233.44L598.79 237.87L599.17 241.27L599.56 243.76L599.95 245.49L600.34 246.62L600.73 247.32L601.11 247.69L601.50 247.80L601.87 247.68L602.24 247.30L602.61 246.56L602.99 245.31L603.36 243.36L603.73 240.53L604.10 236.67L604.47 231.77L604.84 226.01L605.21 219.77L605.59 213.68L605.96 208.48L606.33 204.95L606.70 203.70L607.09 204.76L607.49 207.80L607.88 212.34L608.27 217.78L608.67 223.50L609.06 228.97L609.45 233.81L609.85 237.81L610.24 240.91L610.63 243.18L611.03 244.75L611.42 245.77L611.81 246.38L612.21 246.70L612.60 246.80L612.98 246.71L613.37 246.41L613.75 245.82L614.14 244.80L614.52 243.20L614.91 240.87L615.29 237.74L615.68 233.85L616.06 229.47L616.45 225.03L616.83 221.14L617.22 218.46L617.60 217.50L617.97 218.33L618.35 220.71L618.72 224.27L619.09 228.54L619.47 233.03L619.84 237.32L620.21 241.11L620.59 244.25L620.96 246.68L621.33 248.46L621.71 249.69L622.08 250.49L622.45 250.97L622.83 251.22L623.20 251.30L623.58 251.23L623.97 251.00L624.35 250.54L624.74 249.76L625.12 248.52L625.51 246.73L625.89 244.31L626.28 241.31L626.66 237.93L627.05 234.51L627.43 231.51L627.82 229.44L628.20 228.70L628.60 229.44L629.00 231.52L629.40 234.53L629.80 237.97L630.20 241.37L630.60 244.38L631.00 246.81L631.40 248.61L631.80 249.85L632.20 250.64L632.60 251.10L633.00 251.33L633.40 251.40L633.78 251.35L634.15 251.19L634.53 250.87L634.91 250.33L635.28 249.47L635.66 248.22L636.04 246.54L636.42 244.46L636.79 242.11L637.17 239.73L637.55 237.65L637.92 236.21L638.30 235.70L638.68 236.29L639.07 237.94L639.45 240.33L639.84 243.05L640.22 245.74L640.61 248.13L640.99 250.06L641.38 251.49L641.76 252.47L642.15 253.10L642.53 253.46L642.92 253.64L643.30 253.70L643.69 253.65L644.08 253.49L644.47 253.16L644.87 252.58L645.26 251.65L645.65 250.32L646.04 248.55L646.43 246.46L646.83 244.24L647.22 242.23L647.61 240.81L648.00 240.30L648.37 240.66L648.74 241.68L649.11 243.17L649.49 244.93L649.86 246.72L650.23 248.38L650.60 249.79L650.97 250.91L651.34 251.72L651.71 252.28L652.09 252.64L652.46 252.86L652.83 252.97L653.20 253.00L653.59 252.93L653.98 252.69L654.37 252.20L654.76 251.32L655.15 249.92L655.55 247.91L655.94 245.34L656.33 242.48L656.72 239.79L657.11 237.82L657.50 237.10L657.90 237.66L658.30 239.19L658.70 241.36L659.10 243.76L659.50 246.03L659.90 247.94L660.30 249.39L660.70 250.38L661.10 251.01L661.50 251.37L661.90 251.55L662.30 251.60L662.69 251.48L663.08 251.06L663.47 250.21L663.87 248.72L664.26 246.36L664.65 242.94L665.04 238.43L665.43 233.06L665.83 227.38L666.22 222.25L666.61 218.62L667.00 217.30L667.40 218.50L667.80 221.83L668.20 226.53L668.60 231.72L669.00 236.64L669.40 240.78L669.80 243.91L670.20 246.06L670.60 247.42L671.00 248.20L671.40 248.59L671.80 248.70L672.19 248.59L672.58 248.19L672.97 247.37L673.36 245.91L673.75 243.58L674.15 240.24L674.54 235.99L674.93 231.24L675.32 226.76L675.71 223.50L676.10 222.30L676.49 223.53L676.88 226.86L677.27 231.44L677.66 236.30L678.05 240.65L678.45 244.06L678.84 246.45L679.23 247.94L679.62 248.78L680.01 249.18L680.40 249.30L680.78 249.26L681.17 249.13L681.55 248.87L681.93 248.41L682.32 247.68L682.70 246.62L683.08 245.23L683.47 243.57L683.85 241.82L684.23 240.23L684.62 239.11L685.00 238.70L685.38 239.27L685.77 240.85L686.15 243.08L686.53 245.54L686.92 247.88L687.30 249.84L687.68 251.33L688.07 252.35L688.45 252.99L688.83 253.36L689.22 253.55L689.60 253.60L689.99 253.50L690.38 253.19L690.77 252.71L691.16 252.09L691.55 251.37L691.95 250.62L692.34 249.88L692.73 249.23L693.12 248.72L693.51 248.39L693.90 248.30L694.29 248.40L694.68 248.74L695.08 249.29L695.47 250.01L695.86 250.83L696.25 251.71L696.64 252.57L697.03 253.37L697.42 254.05L697.82 254.57L698.21 254.89L698.60 255.00L698.98 254.96L699.35 254.85L699.73 254.67L700.10 254.44L700.48 254.17L700.85 253.87L701.23 253.57L701.60 253.29L701.98 253.04L702.35 252.85L702.73 252.73L703.10 252.70L703.50 252.74L703.90 252.90L704.30 253.14L704.70 253.46L705.10 253.83L705.50 254.23L705.90 254.61L706.30 254.97L706.70 255.27L707.10 255.51L707.50 255.65L707.90 255.70L708.29 255.68L708.68 255.62L709.07 255.52L709.46 255.39L709.85 255.24L710.25 255.08L710.64 254.93L711.03 254.79L711.42 254.69L711.81 254.62L712.20 254.60L712.60 254.63L713.00 254.74L713.40 254.92L713.80 255.15L714.20 255.44L714.60 255.75L715.00 256.08L715.40 256.40L715.80 256.70L716.20 256.97L716.60 257.19L717.00 257.36L717.40 257.46L717.80 257.50L718.19 257.49L718.58 257.47L718.97 257.43L719.36 257.38L719.74 257.33L720.13 257.28L720.52 257.24L720.91 257.21L721.30 257.20L721.67 257.22L722.04 257.28L722.41 257.37L722.78 257.48L723.15 257.61L723.52 257.73L723.89 257.84L724.26 257.93L724.63 257.98L725.00 258.00L725.39 258.00L725.78 258.01L726.17 258.02L726.56 258.04L726.95 258.07L727.34 258.09L727.73 258.13L728.12 258.16L728.51 258.21L728.90 258.25L729.29 258.30L729.68 258.35L730.07 258.41L730.46 258.47L730.85 258.53L731.24 258.60L731.63 258.66L732.02 258.73L732.41 258.80L732.80 258.87L733.20 258.93L733.59 259.00L733.98 259.07L734.37 259.14L734.76 259.20L735.15 259.27L735.54 259.33L735.93 259.39L736.32 259.45L736.71 259.50L737.10 259.55L737.49 259.59L737.88 259.64L738.27 259.67L738.66 259.71L739.05 259.73L739.44 259.76L739.83 259.78L740.22 259.79L740.61 259.80L741.00 259.80L741.39 259.80L741.78 259.80L742.17 259.80L742.57 259.79L742.96 259.79L743.35 259.79L743.74 259.78L744.13 259.78L744.52 259.77L744.92 259.76L745.31 259.76L745.70 259.75L746.09 259.74L746.48 259.74L746.88 259.73L747.27 259.73L747.66 259.72L748.05 259.71L748.44 259.71L748.83 259.71L749.23 259.70L749.62 259.70L750.01 259.70L750.40 259.70"/>
<path class="ay" d="M60.3 43V378.8"/><path class="ax" d="M55.2 373.5H260.5M260 373.5V378.4"/>
<path class="tk" d="M55.2 72.8H60.4M55.2 222.9H60.4"/>
<path d="M304.7 41.5V375.6" stroke="#000" stroke-width="1.5" fill="none"/><path class="ax" d="M299.2 371.5H513.7M513.2 371.5V375.7"/>
<path class="tk" d="M299 70.8H304.8M299 221H304.8"/>
<path d="M550.5 41V377.3" stroke="#000" stroke-width="1.6" fill="none"/><path class="ax" d="M545 371.8H750.5M750 371.8V376.8"/>
<path class="tk" d="M545 70.9H550.8M545 221.2H550.8"/>
<path class="dp" d="M77.9 55V63.5M104.2 55V63.5M132.2 55V63.5M156 55V63.5"/>
<path class="dp" d="M324.9 53.9V63.3M351.6 53.9V63.3M379.2 53.9V63.3M403 53.9V63.3"/>
<path class="dp" d="M572.2 58.6V67.8M598.8 58.6V67.8M626.6 58.6V67.8M650.6 58.6V67.8"/>
<text x="79.4" y="52.0" font-size="10.4" text-anchor="middle" font-weight="normal" fill="#505050" >20</text>
<text x="105.3" y="52.0" font-size="10.4" text-anchor="middle" font-weight="normal" fill="#505050" >22</text>
<text x="131.0" y="53.4" font-size="10.4" text-anchor="middle" font-weight="normal" fill="#505050" >24</text>
<text x="158.3" y="52.0" font-size="10.4" text-anchor="middle" font-weight="normal" fill="#505050" >26</text>
<text x="174.8" y="54.6" font-size="10.4" text-anchor="middle" font-weight="normal" fill="#505050" >DP</text>
<text transform="translate(44.8 80.0) scale(1.030 1)" font-size="14.6" text-anchor="end" font-weight="normal" fill="#000" >10</text>
<text transform="translate(44.4 229.8) scale(1.030 1)" font-size="14.6" text-anchor="end" font-weight="normal" fill="#000" >5</text>
<text transform="translate(45.0 374.4) scale(1.030 1)" font-size="14.6" text-anchor="end" font-weight="normal" fill="#000" >0</text>
<text transform="translate(294.6 76.2) scale(1.030 1)" font-size="14.6" text-anchor="end" font-weight="normal" fill="#000" >100</text>
<text transform="translate(294.3 225.5) scale(1.030 1)" font-size="14.6" text-anchor="end" font-weight="normal" fill="#000" >50</text>
<text transform="translate(295.2 370.7) scale(1.030 1)" font-size="14.6" text-anchor="end" font-weight="normal" fill="#000" >0</text>
<path d="M269.3 78.2H295.4M278.1 228.2H295" stroke="#000" stroke-width="1" fill="none"/>
<text transform="translate(537.0 76.4) scale(1.030 1)" font-size="14.6" text-anchor="end" font-weight="normal" fill="#000" >10</text>
<text transform="translate(537.0 225.5) scale(1.030 1)" font-size="14.6" text-anchor="end" font-weight="normal" fill="#000" >5</text>
<text transform="translate(537.7 367.0) scale(1.030 1)" font-size="14.6" text-anchor="end" font-weight="normal" fill="#000" >0</text>
<text transform="translate(54.5 397.3) scale(1.030 1)" font-size="14.6" text-anchor="middle" font-weight="normal" fill="#000" >32</text>
<text transform="translate(266.4 397.8) scale(1.030 1)" font-size="14.6" text-anchor="middle" font-weight="normal" fill="#000" >42</text>
<text transform="translate(306.0 395.3) scale(1.030 1)" font-size="14.6" text-anchor="middle" font-weight="normal" fill="#000" >32</text>
<text transform="translate(518.3 395.8) scale(1.030 1)" font-size="14.6" text-anchor="middle" font-weight="normal" fill="#000" >42</text>
<text transform="translate(551.7 393.3) scale(1.030 1)" font-size="14.6" text-anchor="middle" font-weight="normal" fill="#000" >32</text>
<text transform="translate(756.5 394.6) scale(1.030 1)" font-size="14.6" text-anchor="middle" font-weight="normal" fill="#000" >42</text>
<text transform="translate(165.7 411.6) scale(1.075 1)" font-size="14.5" text-anchor="middle" font-weight="normal" fill="#000" >Time (min)</text>
<text transform="translate(416.7 409.6) scale(1.075 1)" font-size="14.5" text-anchor="middle" font-weight="normal" fill="#000" >Time (min)</text>
<text transform="translate(656.3 410.2) scale(1.075 1)" font-size="14.5" text-anchor="middle" font-weight="normal" fill="#000" >Time (min)</text>
<text transform="translate(16 207.4) rotate(-90)" font-size="14.4" text-anchor="middle" fill="#000">Signal (nC)</text>
</svg></body></html>
